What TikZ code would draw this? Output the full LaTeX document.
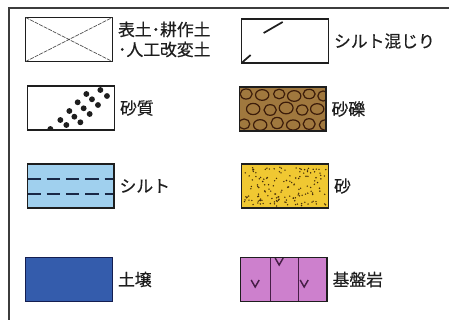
\documentclass[tikz,border=0pt]{standalone}
\usepackage{fontspec}
\newfontfamily\jpfont[FakeBold=0.5]{Noto Sans CJK JP}
\usetikzlibrary{positioning,calc}
\definecolor{ink}{RGB}{30,30,30}
\definecolor{framegray}{RGB}{60,60,60}
\definecolor{siltblue}{RGB}{160,208,238}
\definecolor{siltline}{RGB}{25,40,70}
\definecolor{sandyellow}{RGB}{240,200,50}
\definecolor{sanddot}{RGB}{70,45,10}
\definecolor{gravel}{RGB}{160,120,62}
\definecolor{gravelline}{RGB}{60,28,10}
\definecolor{soilblue}{RGB}{52,92,172}
\definecolor{soilline}{RGB}{20,30,80}
\definecolor{rockpink}{RGB}{205,128,205}
\definecolor{rockline}{RGB}{70,30,70}
\tikzset{
  every picture/.style={x=0.75pt, y=-0.75pt, line width=0.6pt},
  node distance=4pt,
  legbox/.style={draw=ink, line width=1pt, fill=white, minimum width=65pt, minimum height=33pt, inner sep=0pt, outer sep=0pt},
  rim/.style={draw=ink, line width=1pt},
  lbl/.style={font=\jpfont\fontsize{12.6}{15}\selectfont, text=ink, inner sep=0pt, align=left},
  xline/.style={draw=gray!60!black, line width=0.5pt, dash pattern=on 3pt off 0.8pt},
  slash/.style={draw=ink, line width=1.3pt},
  siltdash/.style={draw=siltline, line width=0.8pt, dash pattern=on 10pt off 4.5pt},
  pebble/.style={draw=gravelline, line width=0.9pt},
  vmark/.style={draw=rockline, line width=1.1pt},
}
\begin{document}
\begin{tikzpicture}
  \useasboundingbox (0,0) rectangle (449,320);
  % frame
  \draw[framegray, line width=0.8pt] (9,320) -- (9,8) -- (449,8);

  % left column
  \node[legbox] (fill) at (69,39.5) {};
  \node[lbl, right=of fill] (fillt) {表土･耕作土\\･人工改変土};
  \node[legbox] (sandy) at (71,108) {};
  \node[lbl, right=of sandy] (sandyt) {砂質};
  \node[legbox, fill=siltblue] (silt) at (70.5,186) {};
  \node[lbl, right=of silt] (siltt) {シルト};
  \node[legbox, fill=soilblue, draw=soilline] (soil) at (69,279.5) {};
  \node[lbl, right=of soil] (soilt) {土壌};

  % right column
  \node[legbox] (siltmix) at (285,41) {};
  \node[lbl, right=of siltmix] (siltmixt) {シルト混じり};
  \node[legbox, fill=gravel] (grav) at (282.5,109) {};
  \node[lbl, right=of grav] (gravt) {砂礫};
  \node[legbox, fill=sandyellow] (sand) at (285,186) {};
  \node[lbl, right=of sand] (sandt) {砂};
  \node[legbox, fill=rockpink] (rock) at (283.5,279.5) {};
  \node[lbl, right=of rock] (rockt) {基盤岩};

  % fill: cross
  \draw[xline] (fill.north west) -- (fill.south east) (fill.south west) -- (fill.north east);

  % silt mixed: two strokes
  \begin{scope}[shift={(siltmix.north west)}]
    \draw[slash] (22,14) -- (41,3) (1,43) -- (9,36);
  \end{scope}

  % sandy: dotted diagonal bands
  \begin{scope}[shift={(sandy.north west)}]
    \clip (0,0) rectangle (86.7,44);
    \foreach \p in {(22.7,43),(32.7,34),(41.7,25),(50,16.3),(58.7,8),
                    (38.7,39),(46.7,30.7),(56,22.3),(64.3,13.3),(72.7,4),
                    (52.7,36.3),(62,28),(70.3,19),(79.3,10)}
      \fill[ink] \p circle (2.2pt);
  \end{scope}
  \draw[rim] (sandy.north west) rectangle (sandy.south east);

  % gravel: pebbles
  \begin{scope}[shift={(grav.north west)}]
    \clip (0,0) rectangle (86.7,44);
    \foreach \x/\y/\rx/\ry in {7/7/4.5/3.8, 23/8/5/4, 40/7/4.2/3.6, 55/9/5/4, 70/7/4.5/3.5, 84/9/4/3.8,
                               14/22/5/4.2, 31/23/4.6/4, 47/21/5.2/4.4, 63/23/4.4/3.8, 78/22/5/4,
                               5/37/4.2/3.8, 21/38/5/4, 38/36/4.6/4.2, 54/38/5/3.8, 70/37/4.5/4, 86/38/4.4/3.8}
      \draw[pebble] (\x,\y) ellipse [x radius=\rx pt, y radius=\ry pt];
  \end{scope}
  \draw[rim] (grav.north west) rectangle (grav.south east);

  % silt: dashes
  \begin{scope}[shift={(silt.north west)}]
    \clip (0,0) rectangle (86.7,44);
    \draw[siltdash] (0,15) -- (87,15) (0,30) -- (87,30);
  \end{scope}
  \draw[rim] (silt.north west) rectangle (silt.south east);

  % sand: fine dots
  \pgfmathsetseed{17}
  \begin{scope}[shift={(sand.north west)}]
    \foreach \i in {1,...,150}
      \fill[sanddot] ({2+rnd*83},{2+rnd*40}) circle (0.6pt);
  \end{scope}
  \draw[rim] (sand.north west) rectangle (sand.south east);

  % bedrock: joints and v marks
  \begin{scope}[shift={(rock.north west)}]
    \draw[rockline, line width=0.5pt] (30,0) -- (30,44) (58,0) -- (58,44);
    \foreach \x/\y in {15/26, 39/4, 64/26}
      \draw[vmark] (\x-4,\y-3.5) -- (\x,\y+3.5) -- (\x+4,\y-3.5);
  \end{scope}
  \draw[rim, draw=ink] (rock.north west) rectangle (rock.south east);
  \draw[rim, draw=soilline] (soil.north west) rectangle (soil.south east);
\end{tikzpicture}
\end{document}
